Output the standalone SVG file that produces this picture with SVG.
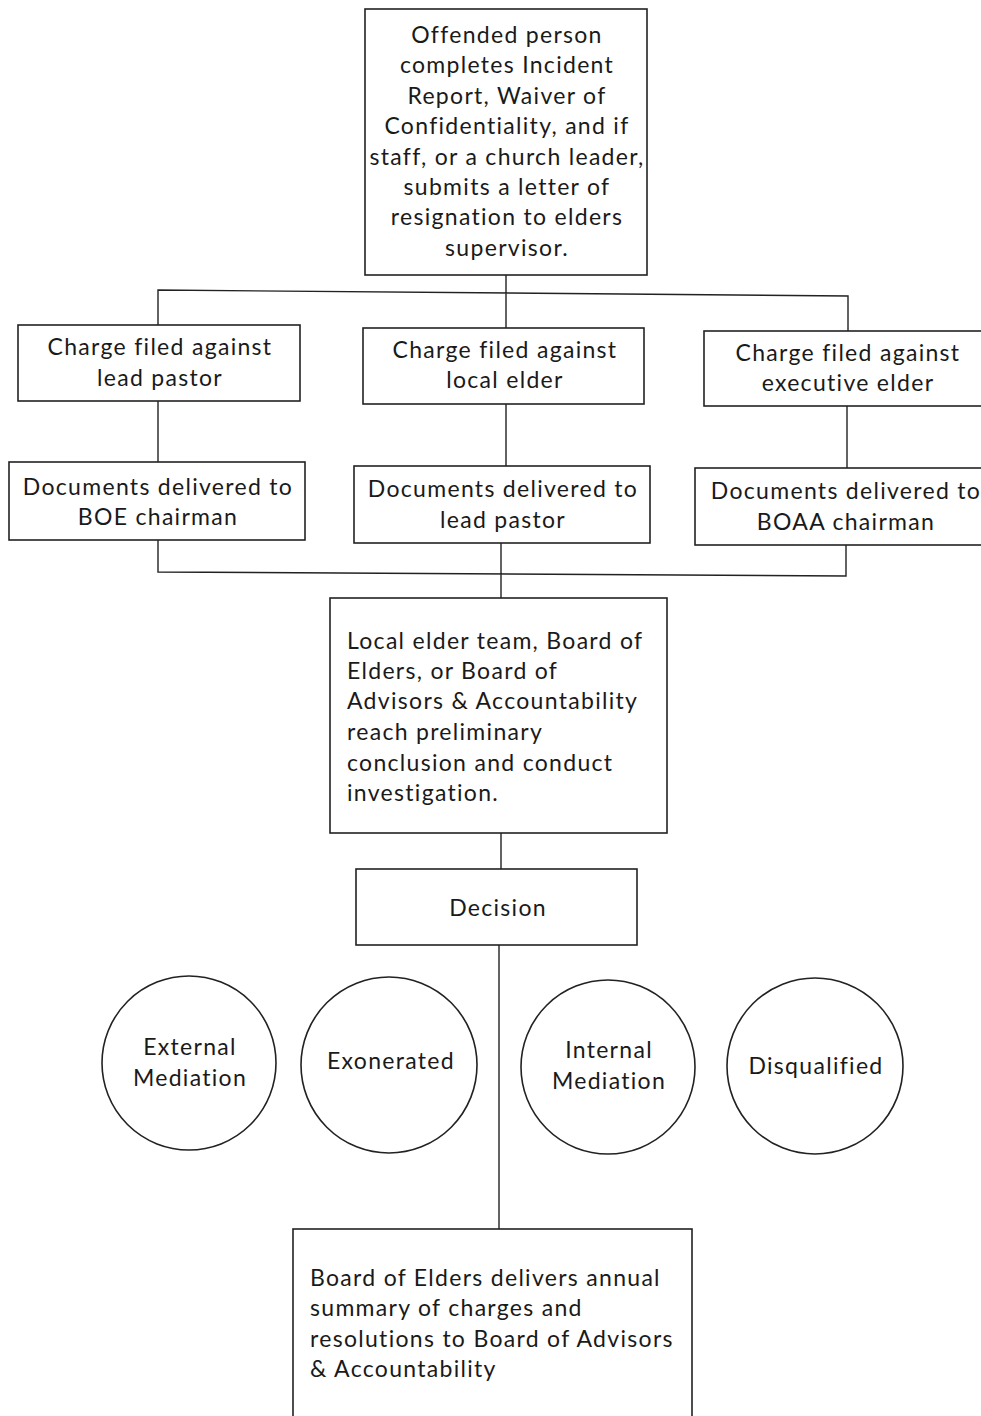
<svg xmlns="http://www.w3.org/2000/svg" width="981" height="1416" viewBox="0 0 981 1416">
<style>
.b{fill:#fff;stroke:#222;stroke-width:1.6}
.c{fill:none;stroke:#222;stroke-width:1.4}
text{font-family:Lato,"Noto Sans","Liberation Sans",sans-serif;font-size:23px;fill:#1a1a1a;letter-spacing:1.3px}
.m{text-anchor:middle}
</style>
<rect width="981" height="1416" fill="#fff"/>
<g id="connectors">
<path class="c" d="M506 275V292M158 325V290L848 296V332M506 292V328"/>
<path class="c" d="M158 401V462M506 404V466M847 406V468"/>
<path class="c" d="M158 540V572L846 576V545M501 543V598"/>
<path class="c" d="M501 833V869M499 945V1229"/>
</g>
<g id="n-offended">
<rect class="b" x="365" y="9" width="282" height="266"/>
<text class="m" x="507" y="43">Offended person</text>
<text class="m" x="507" y="73">completes Incident</text>
<text class="m" x="507" y="104">Report, Waiver of</text>
<text class="m" x="507" y="134">Confidentiality, and if</text>
<text class="m" x="507" y="165">staff, or a church leader,</text>
<text class="m" x="507" y="195">submits a letter of</text>
<text class="m" x="507" y="225">resignation to elders</text>
<text class="m" x="507" y="256">supervisor.</text>
</g>
<g id="n-charge-lead">
<rect class="b" x="18" y="325" width="282" height="76"/>
<text class="m" x="160" y="355">Charge filed against</text>
<text class="m" x="160" y="386">lead pastor</text>
</g>
<g id="n-charge-local">
<rect class="b" x="363" y="328" width="281" height="76"/>
<text class="m" x="505" y="358">Charge filed against</text>
<text class="m" x="505" y="388">local elder</text>
</g>
<g id="n-charge-exec">
<rect class="b" x="704" y="331" width="285" height="75"/>
<text class="m" x="848" y="361">Charge filed against</text>
<text class="m" x="848" y="391">executive elder</text>
</g>
<g id="n-docs-boe">
<rect class="b" x="9" y="462" width="296" height="78"/>
<text class="m" x="158" y="495">Documents delivered to</text>
<text class="m" x="158" y="525">BOE chairman</text>
</g>
<g id="n-docs-lead">
<rect class="b" x="354" y="466" width="296" height="77"/>
<text class="m" x="503" y="497">Documents delivered to</text>
<text class="m" x="503" y="528">lead pastor</text>
</g>
<g id="n-docs-boaa">
<rect class="b" x="695" y="468" width="295" height="77"/>
<text class="m" x="846" y="499">Documents delivered to</text>
<text class="m" x="846" y="530">BOAA chairman</text>
</g>
<g id="n-investigation">
<rect class="b" x="330" y="598" width="337" height="235"/>
<text x="347" y="649">Local elder team, Board of</text>
<text x="347" y="679">Elders, or Board of</text>
<text x="347" y="709">Advisors &amp; Accountability</text>
<text x="347" y="740">reach preliminary</text>
<text x="347" y="771">conclusion and conduct</text>
<text x="347" y="801">investigation.</text>
</g>
<g id="n-decision">
<rect class="b" x="356" y="869" width="281" height="76"/>
<text class="m" x="498" y="916">Decision</text>
</g>
<g id="n-external">
<circle class="b" cx="189" cy="1063" r="87"/>
<text class="m" x="190" y="1055">External</text>
<text class="m" x="190" y="1086">Mediation</text>
</g>
<g id="n-exonerated">
<circle class="b" cx="389" cy="1065" r="88"/>
<text class="m" x="391" y="1069">Exonerated</text>
</g>
<g id="n-internal">
<circle class="b" cx="608" cy="1067" r="87"/>
<text class="m" x="609" y="1058">Internal</text>
<text class="m" x="609" y="1089">Mediation</text>
</g>
<g id="n-disqualified">
<circle class="b" cx="815" cy="1066" r="88"/>
<text class="m" x="816" y="1074">Disqualified</text>
</g>
<g id="n-summary">
<rect class="b" x="293" y="1229" width="399" height="200"/>
<text x="310" y="1286">Board of Elders delivers annual</text>
<text x="310" y="1316">summary of charges and</text>
<text x="310" y="1347">resolutions to Board of Advisors</text>
<text x="310" y="1377">&amp; Accountability</text>
</g>
</svg>
